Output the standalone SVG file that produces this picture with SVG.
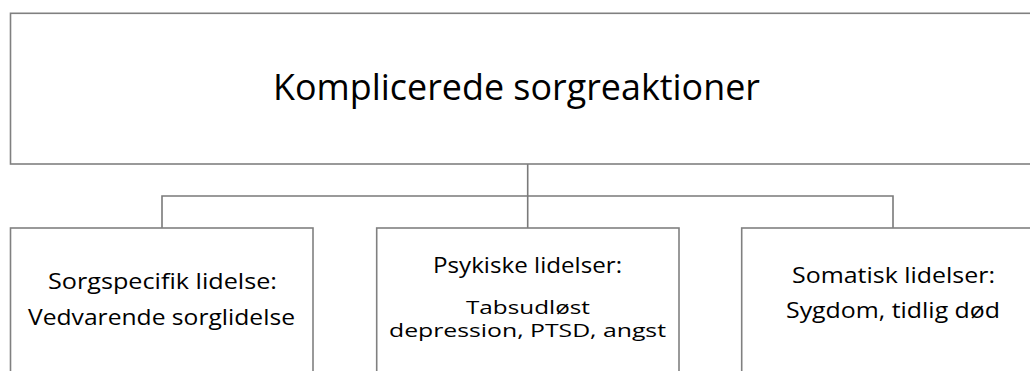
<svg xmlns="http://www.w3.org/2000/svg" width="1030" height="371" viewBox="0 0 1030 371">
<style>
.box{fill:#fff;stroke:#808080;stroke-width:1.6}
.con{fill:none;stroke:#7a7a7a;stroke-width:1.6}
text{font-family:"Open Sans","Liberation Sans",sans-serif;fill:#000;text-anchor:middle}
.t{font-size:36px}
.s{font-size:22px}
.m{font-size:19px}
</style>
<rect width="1030" height="371" fill="#fff"/>
<g id="connectors">
<path class="con" d="M527.7 164V196M162 228V196H893V228M527.7 196V228"/>
</g>
<g id="root">
<rect class="box" x="10.5" y="13.3" width="1034" height="150.7"/>
<text class="t" x="516.5" y="100" textLength="487" lengthAdjust="spacingAndGlyphs">Komplicerede sorgreaktioner</text>
</g>
<g id="left">
<rect class="box" x="10.5" y="228" width="302.5" height="160"/>
<text class="s" x="162.5" y="289" textLength="229" lengthAdjust="spacingAndGlyphs">Sorgspecifik lidelse:</text>
<text class="s" x="161.5" y="325" textLength="267" lengthAdjust="spacingAndGlyphs">Vedvarende sorglidelse</text>
</g>
<g id="middle">
<rect class="box" x="376.7" y="228" width="302.3" height="160"/>
<text class="s" x="527.5" y="273" textLength="189" lengthAdjust="spacingAndGlyphs">Psykiske lidelser:</text>
<text class="m" x="528" y="314" textLength="124" lengthAdjust="spacingAndGlyphs">Tabsudløst</text>
<text class="m" x="527.5" y="337" textLength="277" lengthAdjust="spacingAndGlyphs">depression, PTSD, angst</text>
</g>
<g id="right">
<rect class="box" x="741.7" y="228" width="302.3" height="160"/>
<text class="s" x="893.5" y="283" textLength="203" lengthAdjust="spacingAndGlyphs">Somatisk lidelser:</text>
<text class="s" x="893" y="318" textLength="214" lengthAdjust="spacingAndGlyphs">Sygdom, tidlig død</text>
</g>
</svg>
